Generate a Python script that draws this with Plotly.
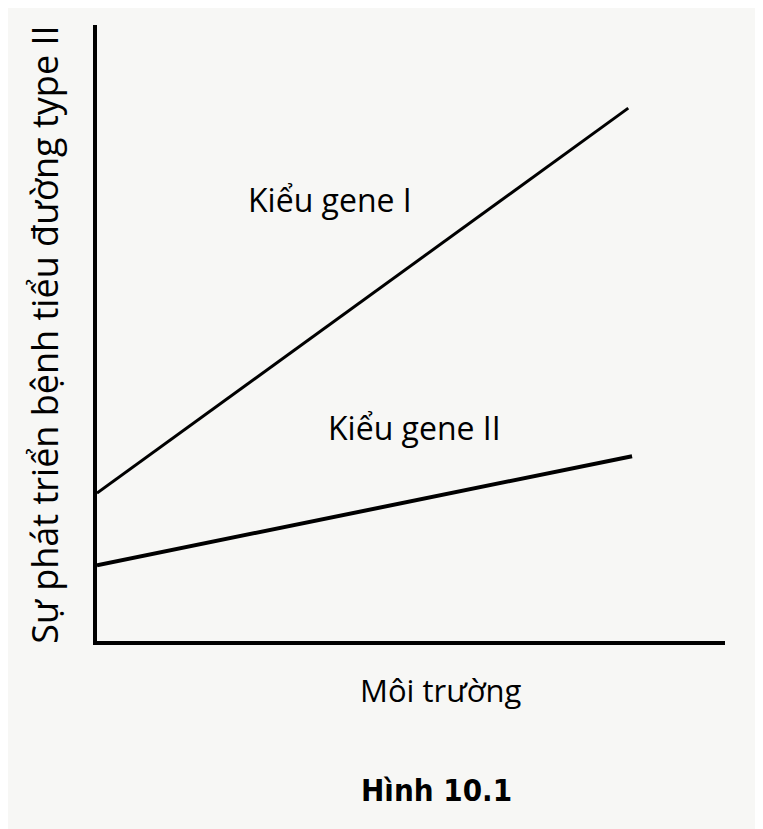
import plotly.graph_objects as go

# Dữ liệu (đơn vị tuỳ ý)
moi_truong_1 = [0.0, 8.46]
gene_1 = [2.40, 8.65]
moi_truong_2 = [0.0, 8.52]
gene_2 = [1.23, 3.00]
nhan_duong = ["Kiểu gene I", "Kiểu gene II"]
vi_tri_nhan_x = [3.71, 5.06]
vi_tri_nhan_y = [7.16, 3.46]

FONT = "Open Sans"

fig = go.Figure()
fig.add_trace(go.Scatter(x=moi_truong_1, y=gene_1, mode="lines",
                         line=dict(color="black", width=3), showlegend=False))
fig.add_trace(go.Scatter(x=moi_truong_2, y=gene_2, mode="lines",
                         line=dict(color="black", width=4), showlegend=False))

for ten, lx, ly in zip(nhan_duong, vi_tri_nhan_x, vi_tri_nhan_y):
    fig.add_annotation(x=lx, y=ly, text=ten, showarrow=False,
                       font=dict(family=FONT, size=32, color="black"))

fig.add_annotation(xref="paper", yref="paper", x=-0.083, y=0.497,
                   xanchor="center", yanchor="middle",
                   text="Sự phát triển bệnh tiểu đường type II", textangle=-90,
                   showarrow=False, font=dict(family=FONT, size=36, color="black"))
fig.add_annotation(xref="paper", yref="paper", x=0.548, y=-0.080,
                   xanchor="center", yanchor="middle",
                   text="Môi trường", showarrow=False,
                   font=dict(family=FONT, size=31, color="black"))
fig.add_annotation(xref="paper", yref="paper", x=0.54, y=-0.242,
                   xanchor="center", yanchor="middle",
                   text="<b>Hình 10.1</b>", showarrow=False,
                   font=dict(family="DejaVu Sans Condensed", size=31, color="black"))

fig.update_xaxes(range=[0, 10], showline=True, linecolor="black", linewidth=4,
                 showgrid=False, zeroline=False, showticklabels=False, ticks="")
fig.update_yaxes(range=[0, 10], showline=True, linecolor="black", linewidth=4,
                 showgrid=False, zeroline=False, showticklabels=False, ticks="")
# trang HTML có lề 8px, nên thu nhỏ hình tương ứng
fig.update_layout(width=755, height=821,
                  margin=dict(l=89, r=38, t=17, b=188),
                  paper_bgcolor="#f7f7f5", plot_bgcolor="#f7f7f5")

fig.write_html("out.html")
